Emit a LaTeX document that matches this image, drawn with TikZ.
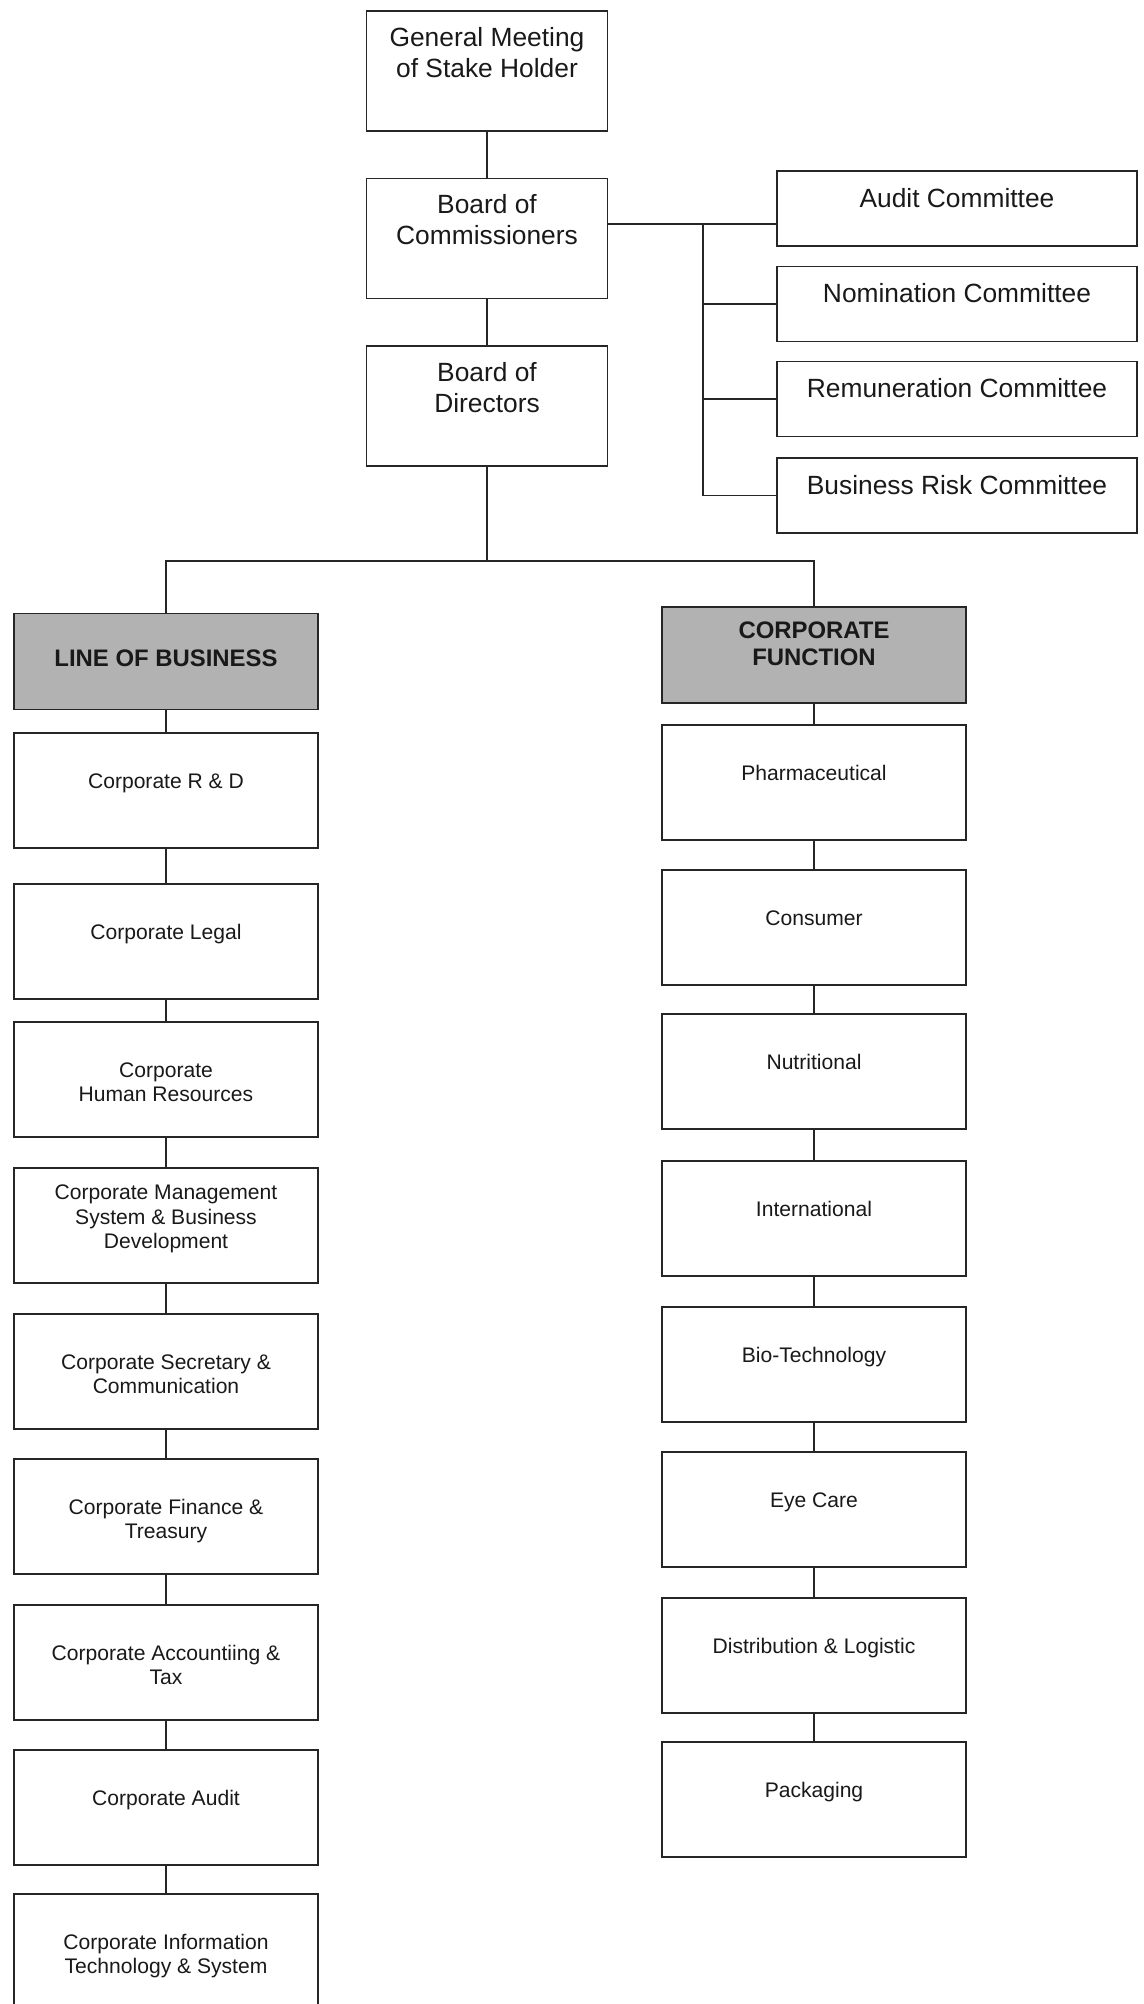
\documentclass[tikz,border=0pt]{standalone}
\usepackage{fontspec}
\setmainfont{Liberation Sans}
\usetikzlibrary{positioning}

% text set at the top of a box: height, width, first baseline, text
\newcommand{\toptext}[4]{\parbox[c][#1][t]{#2}{\centering\rule{0pt}{#3}#4\par}}
\newcommand{\unittext}[2][31.6pt]{\toptext{2.3cm}{6.08cm}{#1}{#2}}
\newcommand{\boardtext}[1]{\toptext{2.4cm}{4.82cm}{20pt}{#1}}
\newcommand{\cmtetext}[1]{\toptext{1.5cm}{7.2cm}{20.7pt}{#1}}

\tikzset{
  box/.style={draw=black!85, line width=1.1pt, inner sep=0pt, text=black!90},
  board/.style={box, font=\fontsize{15}{17.6}\selectfont},
  cmte/.style={box, font=\fontsize{15}{17.6}\selectfont},
  head/.style={box, fill=black!30, font=\fontsize{13.6}{15.3}\selectfont\bfseries},
  unit/.style={box, font=\fontsize{12}{13.9}\selectfont},
  link/.style={draw=black!85, line width=0.8pt}
}

\begin{document}
\begin{tikzpicture}[x=0.02cm, y=-0.02cm]
	\useasboundingbox (0,0) rectangle (1143,2004);
	% top of the chart
	\node[board] (gm) at (487,71) {\boardtext{General Meeting\\of Stake Holder}};
	\node[board] (boc) at (487,238.5) {\boardtext{Board of\\Commissioners}};
	\node[board] (bod) at (487,406) {\boardtext{Board of\\Directors}};
	\node[cmte] (audit) at (957,208.5) {\cmtetext{Audit Committee}};
	\node[cmte] (nom) at (957,304) {\cmtetext{Nomination Committee}};
	\node[cmte] (rem) at (957,399) {\cmtetext{Remuneration Committee}};
	\node[cmte] (risk) at (957,495.5) {\cmtetext{Business Risk Committee}};
	\coordinate (bus) at (703,224);
	\coordinate (split) at (487,561);
	\draw[link] (gm) -- (boc);
	\draw[link] (boc) -- (bod);
	\draw[link] (boc.east |- bus) -- (audit.west |- bus);
	\draw[link] (bus) -- (bus |- risk.west) -- (risk.west);
	\draw[link] (bus |- nom.west) -- (nom.west);
	\draw[link] (bus |- rem.west) -- (rem.west);

	% the two branches
	\node[head] (lob) at (166,661.5) {\toptext{1.92cm}{6.08cm}{30.4pt}{LINE OF BUSINESS}};
	\node[head] (cf) at (814,655) {\toptext{1.92cm}{6.08cm}{17.9pt}{CORPORATE\\FUNCTION}};
	\draw[link] (bod) -- (split);
	\draw[link] (lob.north) -- (lob.north |- split) -- (cf.north |- split) -- (cf.north);

	% line of business
	\node[unit] (rnd) at (166,790.5) {\unittext{Corporate R \& D}};
	\node[unit] (legal) at (166,941.5) {\unittext{Corporate Legal}};
	\node[unit] (hr) at (166,1079.5) {\unittext{Corporate\\Human Resources}};
	\node[unit] (cms) at (166,1225.5) {\unittext[18pt]{Corporate Management\\System \& Business\\Development}};
	\node[unit] (sec) at (166,1371.5) {\unittext{Corporate Secretary \&\\Communication}};
	\node[unit] (fin) at (166,1516.5) {\unittext{Corporate Finance \&\\Treasury}};
	\node[unit] (acc) at (166,1662.5) {\unittext{Corporate Accountiing \&\\Tax}};
	\node[unit] (caud) at (166,1807.5) {\unittext{Corporate Audit}};
	\node[unit] (cit) at (166,1951.5) {\unittext{Corporate Information\\Technology \& System}};

	% corporate function
	\node[unit] (pharma) at (814,782.5) {\unittext{Pharmaceutical}};
	\node[unit] (cons) at (814,927.5) {\unittext{Consumer}};
	\node[unit] (nutri) at (814,1071.5) {\unittext{Nutritional}};
	\node[unit] (intl) at (814,1218.5) {\unittext{International}};
	\node[unit] (bio) at (814,1364.5) {\unittext{Bio-Technology}};
	\node[unit] (eye) at (814,1509.5) {\unittext{Eye Care}};
	\node[unit] (dist) at (814,1655.5) {\unittext{Distribution \& Logistic}};
	\node[unit] (pack) at (814,1799.5) {\unittext{Packaging}};

	\foreach \a/\b in {lob/rnd, rnd/legal, legal/hr, hr/cms, cms/sec, sec/fin, fin/acc, acc/caud, caud/cit,
	                   cf/pharma, pharma/cons, cons/nutri, nutri/intl, intl/bio, bio/eye, eye/dist, dist/pack}
		\draw[link] (\a.south) -- (\b.north);
\end{tikzpicture}
\end{document}
